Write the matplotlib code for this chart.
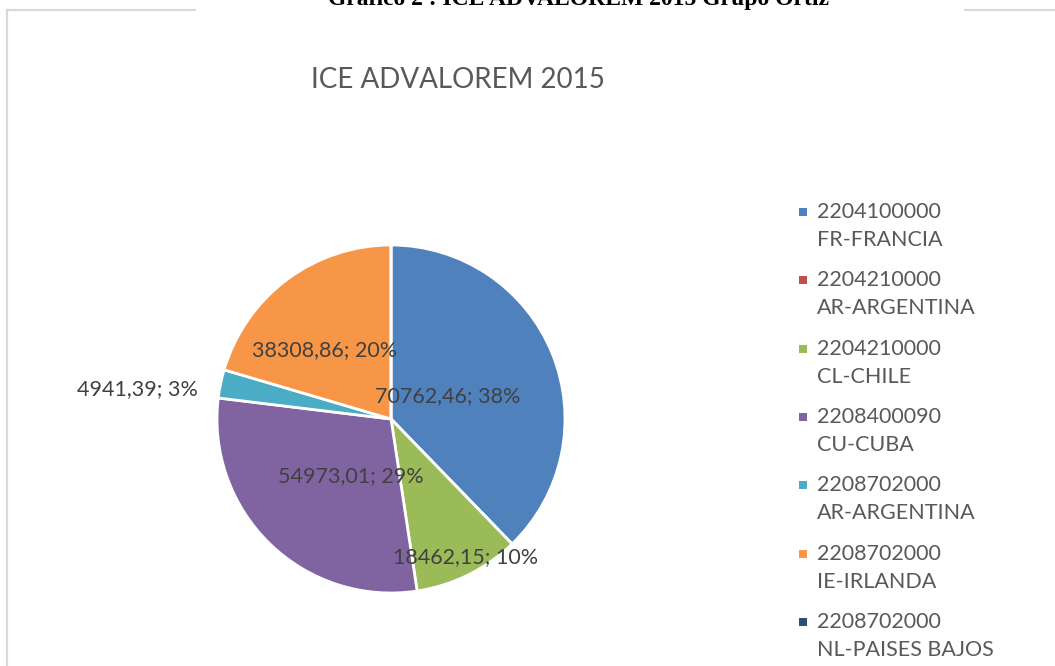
import matplotlib
matplotlib.use("Agg")
import matplotlib.pyplot as plt
from matplotlib.lines import Line2D
import numpy as np

# Data
codes = ["2204100000", "2204210000", "2204210000", "2208400090",
         "2208702000", "2208702000", "2208702000"]
countries = ["FR-FRANCIA", "AR-ARGENTINA", "CL-CHILE", "CU-CUBA",
             "AR-ARGENTINA", "IE-IRLANDA", "NL-PAISES BAJOS"]
values = [70762.46, 0.0, 18462.15, 54973.01, 4941.39, 38308.86, 0.0]
colors = ["#4F81BD", "#C0504D", "#9BBB59", "#8064A2", "#4BACC6", "#F79646", "#2C4D75"]

# label placement (radius, angle nudge in degrees, ha)
label_pos = [(0.35, 0, "center"), None, (0.90, 2, "center"), (0.40, 9, "center"),
             (1.12, 3, "right"), (0.55, 7, "center"), None]

W, H = 1055, 666
fig = plt.figure(figsize=(W / 100, H / 100), dpi=100)
fig.patch.set_facecolor("white")

# frame lines (page border)
grey = "#d9d9d9"
fig.add_artist(Line2D([7 / W, 195 / W], [1 - 10 / H] * 2, color=grey, lw=1.6))
fig.add_artist(Line2D([965 / W, 1.0], [1 - 10 / H] * 2, color=grey, lw=1.6))
fig.add_artist(Line2D([7 / W] * 2, [0, 1 - 10 / H], color=grey, lw=1.6))

# clipped document caption at the top
fig.text(578 / W, 1 - 5 / H, "Gráfico 2 : ICE ADVALOREM 2015 Grupo Ortiz",
         ha="center", va="baseline", fontsize=17, fontweight="bold",
         family="Liberation Serif", color="black")

# chart title
fig.text(458 / W, 1 - 80 / H, "ICE ADVALOREM 2015", ha="center", va="center",
         fontsize=20, family="Lato", color="#595959")

# pie
cx, cy, r = 391, 419, 174
ax = fig.add_axes([(cx - r) / W, (H - cy - r) / H, 2 * r / W, 2 * r / H])
wedges, _ = ax.pie(values, colors=colors, startangle=90, counterclock=False,
                   wedgeprops=dict(edgecolor="white", linewidth=2.0))
ax.set_xlim(-1, 1)
ax.set_ylim(-1, 1)
ax.axis("off")

total = sum(values)
for w, v, lp in zip(wedges, values, label_pos):
    if lp is None or v == 0:
        continue
    rad, nudge, ha = lp
    ang = np.deg2rad((w.theta1 + w.theta2) / 2 + nudge)
    txt = f"{v:.2f}".replace(".", ",") + f"; {round(100 * v / total)}%"
    ax.text(rad * np.cos(ang), rad * np.sin(ang), txt, ha=ha, va="center",
            fontsize=15.5, family="Lato", color="#404040", clip_on=False)

# legend
lax = fig.add_axes([0, 0, 1, 1], facecolor="none")
lax.set_xlim(0, W)
lax.set_ylim(H, 0)
lax.axis("off")
for i, (code, ctry, col) in enumerate(zip(codes, countries, colors)):
    y0 = 212 + i * 68.3
    lax.scatter([803], [y0], marker="s", s=40, color=col, linewidths=0)
    lax.text(817, y0, code, ha="left", va="center", fontsize=15.5,
             family="Lato", color="#595959")
    lax.text(817, y0 + 28, ctry, ha="left", va="center", fontsize=15.5,
             family="Lato", color="#595959")

fig.savefig("out.png", dpi=100, facecolor="white")
